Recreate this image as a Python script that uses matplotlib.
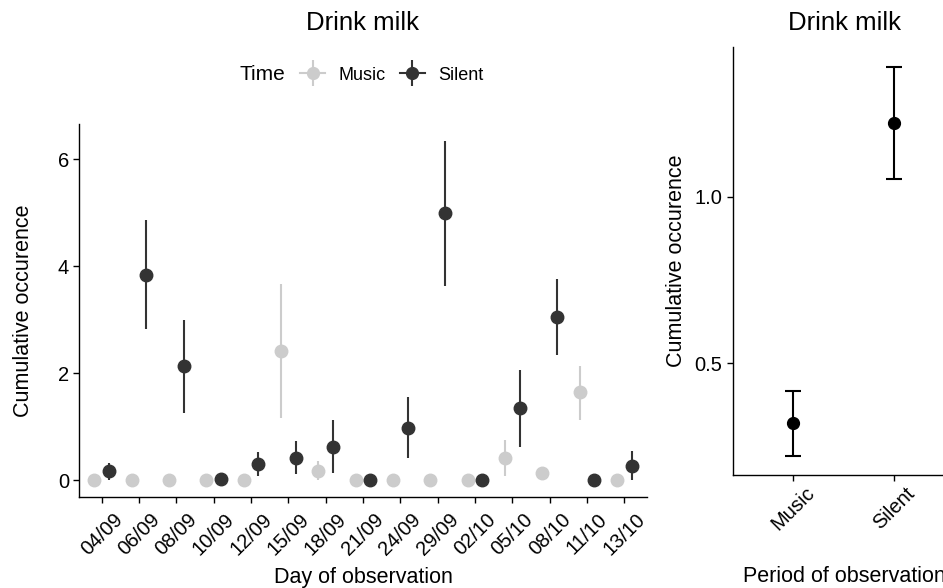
import matplotlib
matplotlib.use("Agg")
import matplotlib.pyplot as plt
from matplotlib.lines import Line2D
import numpy as np

plt.rcParams['font.family'] = ['Liberation Sans', 'DejaVu Sans']

# daily values (left panel)
days = ['04/09', '06/09', '08/09', '10/09', '12/09', '15/09', '18/09', '21/09',
        '24/09', '29/09', '02/10', '05/10', '08/10', '11/10', '13/10']
music_mean = [0, 0, 0, 0, 0, 2.41, 0.17, 0, 0, 0, 0, 0.42, 0.14, 1.65, 0]
music_lo = [0, 0, 0, 0, 0, 1.16, 0.0, 0, 0, 0, 0, 0.08, 0.14, 1.13, 0]
music_hi = [0, 0, 0, 0, 0, 3.67, 0.36, 0, 0, 0, 0, 0.75, 0.14, 2.13, 0]
silent_mean = [0.17, 3.84, 2.13, 0.02, 0.31, 0.42, 0.62, 0, 0.98, 4.99, 0, 1.35, 3.06, 0, 0.27]
silent_lo = [0.01, 2.82, 1.26, 0.02, 0.09, 0.11, 0.14, 0, 0.42, 3.63, 0, 0.63, 2.34, 0, 0.0]
silent_hi = [0.32, 4.86, 3.00, 0.02, 0.52, 0.73, 1.12, 0, 1.55, 6.34, 0, 2.06, 3.76, 0, 0.54]

# period summary (right panel)
periods = ['Music', 'Silent']
period_mean = [0.32, 1.222]
period_lo = [0.223, 1.054]
period_hi = [0.418, 1.39]

MUSIC_COL = '#cccccc'
SILENT_COL = '#333333'

fig = plt.figure(figsize=(9.43, 5.88), dpi=100)
W, H = 943, 588


def px_axes(x0, y0, x1, y1):
    # pixel box (top-left origin) -> figure fraction
    return fig.add_axes([x0 / W, 1 - y1 / H, (x1 - x0) / W, (y1 - y0) / H])


def style_axes(ax, xpad):
    for s in ['top', 'right']:
        ax.spines[s].set_visible(False)
    for s in ['left', 'bottom']:
        ax.spines[s].set_linewidth(1.0)
        ax.spines[s].set_color('black')
    ax.tick_params(direction='out', length=4, width=1.0, colors='black',
                   labelsize=14.5)
    ax.tick_params(axis='y', pad=3.5)
    ax.tick_params(axis='x', pad=xpad)


def expand(lo, hi, f=0.05):
    d = (hi - lo) * f
    return lo - d, hi + d


# ---- left panel
L0, T0, L1, B0 = 79.3, 124, 646.7, 497.3
ax1 = px_axes(L0, T0, L1, B0)
x = np.arange(len(days))
mm = np.array(music_mean)
sm = np.array(silent_mean)
ax1.errorbar(x - 0.2, mm, yerr=[mm - np.array(music_lo), np.array(music_hi) - mm],
             fmt='o', color=MUSIC_COL, ms=9, elinewidth=1.5, capsize=0, zorder=2)
ax1.errorbar(x + 0.2, sm, yerr=[sm - np.array(silent_lo), np.array(silent_hi) - sm],
             fmt='o', color=SILENT_COL, ms=9, elinewidth=1.5, capsize=0, zorder=3)
ax1.set_xlim(-0.6, len(days) - 0.4)
ax1.set_ylim(*expand(min(music_lo + silent_lo), max(music_hi + silent_hi)))
ax1.set_xticks(x)
ax1.set_xticklabels(days, rotation=45, ha='center', va='top')
ax1.set_yticks([0, 2, 4, 6])
style_axes(ax1, xpad=5)
ax1.set_xlabel('Day of observation', fontsize=15.5, va='center')
ax1.xaxis.set_label_coords(0.5, (B0 - 577) / (B0 - T0))
ax1.set_ylabel('Cumulative occurence', fontsize=15.5, va='center')
ax1.yaxis.set_label_coords((24 - L0) / (L1 - L0), 0.5)
fig.text(362 / W, 1 - 23 / H, 'Drink milk', fontsize=18.5, ha='center', va='center')

# legend: "Time" title on the left, keys in a row
fig.text(240 / W, 1 - 75 / H, 'Time', fontsize=15, ha='left', va='center')
handles = []
for col in [MUSIC_COL, SILENT_COL]:
    h1 = Line2D([], [], color=col, marker='o', ms=8.5, lw=1.5)
    h2 = Line2D([], [], color=col, marker='|', ms=19, mew=1.5, ls='none')
    handles.append((h1, h2))
fig.legend(handles, ['Music', 'Silent'], ncol=2, frameon=False, fontsize=13,
           loc='center left', bbox_to_anchor=(291 / W, 1 - 75 / H),
           handlelength=1.4, handletextpad=0.75, columnspacing=0.75, borderpad=0)

# ---- right panel (runs past the right edge, as in the source)
R0, RT, R1, RB = 732.7, 47.3, 955, 475
ax2 = px_axes(R0, RT, R1, RB)
xp = np.arange(len(periods))
pm = np.array(period_mean)
ax2.errorbar(xp, pm, yerr=[pm - np.array(period_lo), np.array(period_hi) - pm],
             fmt='o', color='black', ms=8.5, elinewidth=1.5, capsize=6, capthick=1.5)
ax2.set_xlim(-0.6, 1.6)
ax2.set_ylim(*expand(min(period_lo), max(period_hi)))
ax2.set_xticks(xp)
ax2.set_xticklabels(periods, rotation=45, ha='center', va='top')
ax2.set_yticks([0.5, 1.0])
ax2.set_yticklabels(['0.5', '1.0'])
style_axes(ax2, xpad=2)
ax2.set_xlabel('Period of observation', fontsize=15.5, va='center')
ax2.xaxis.set_label_coords((844 - R0) / (R1 - R0), (RB - 577) / (RB - RT))
ax2.set_ylabel('Cumulative occurence', fontsize=15.5, va='center')
ax2.yaxis.set_label_coords((676 - R0) / (R1 - R0), 0.5)
fig.text(844 / W, 1 - 23 / H, 'Drink milk', fontsize=18.5, ha='center', va='center')

fig.savefig('out.png', dpi=100)
